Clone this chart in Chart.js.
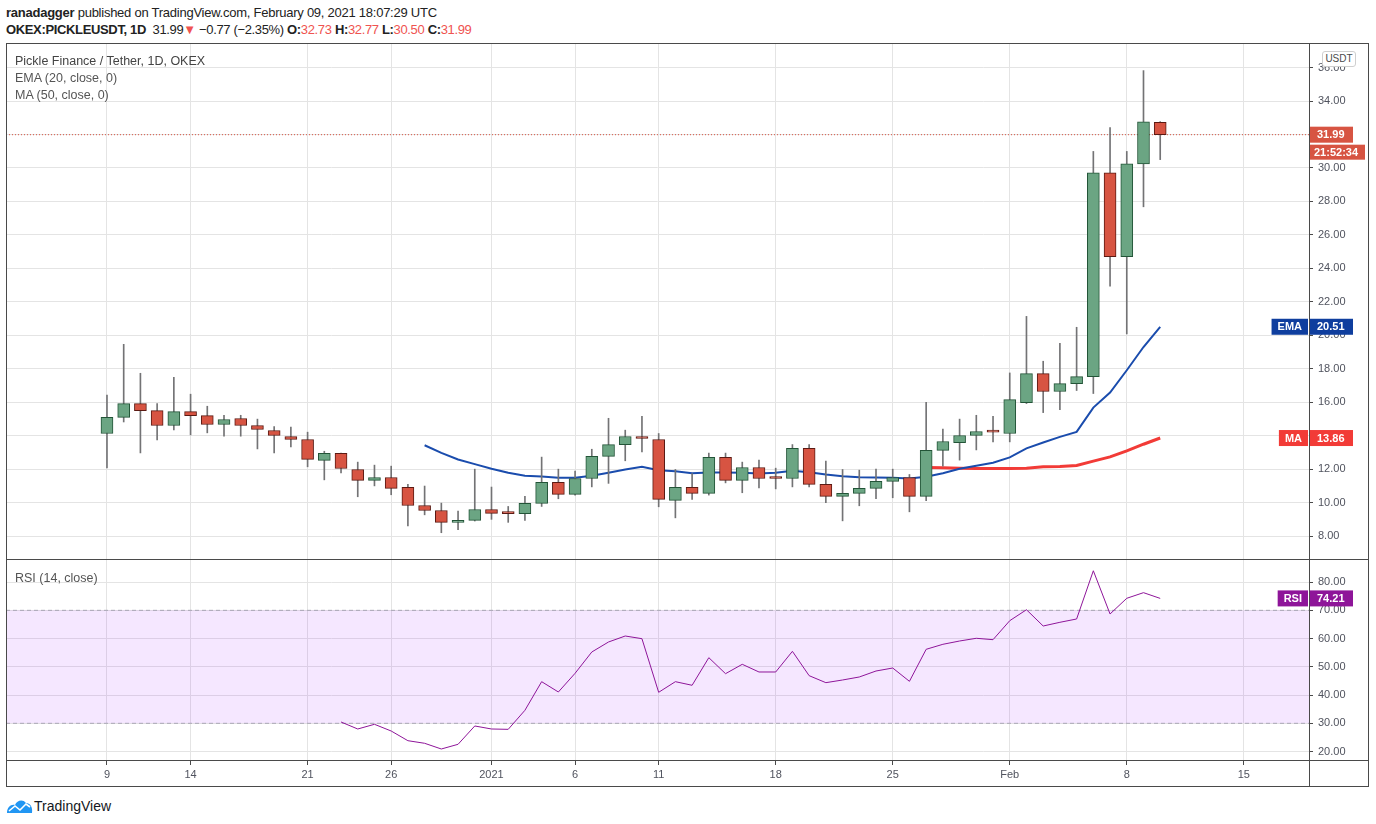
<!DOCTYPE html>
<html>
<head>
<meta charset="utf-8">
<title>PICKLEUSDT 1D</title>
<script src="https://cdn.jsdelivr.net/npm/chart.js@4.4.1/dist/chart.umd.min.js"></script>
<style>
  html, body { margin: 0; padding: 0; background: #fff; }
  body { width: 1376px; height: 824px; position: relative; overflow: hidden; font-family: 'Liberation Sans', Arial, sans-serif; color: #222; }
  .abs { position: absolute; }
  #hdr1 { left: 6px; top: 5px; font-size: 13px; letter-spacing: -0.25px; white-space: nowrap; }
  #hdr2 { left: 6px; top: 22px; font-size: 13px; letter-spacing: -0.35px; white-space: nowrap; }
  .dn { color: #ef5350; }
  .leyenda { left: 15px; font-size: 12.5px; color: #555; white-space: nowrap; }
  .frame { left: 6px; top: 43px; width: 1363px; height: 744px; border: 1px solid #4a4a4a; box-sizing: border-box; pointer-events: none; }
  .hline { height: 1px; background: #4a4a4a; left: 6px; width: 1363px; }
  .vline { width: 1px; background: #4a4a4a; left: 1309px; top: 43px; height: 744px; }
  #usdt { left: 1322px; top: 51px; width: 34px; height: 16px; border: 1px solid #cfcfcf; border-radius: 3px; background: #fff; box-sizing: border-box; font-size: 10px; color: #4a4a4a; text-align: center; line-height: 14px; }
  #logo { left: 6px; top: 796px; height: 20px; display: flex; align-items: center; font-size: 14px; color: #131722; }
</style>
</head>
<body>
<div id="hdr1" class="abs"><b>ranadagger</b> published on TradingView.com, February 09, 2021 18:07:29 UTC</div>
<div id="hdr2" class="abs"></div>

<div class="abs" style="left:6px;top:43px;width:1363px;height:516px;"><canvas id="canvasPrecio"></canvas></div>
<div class="abs" style="left:6px;top:559px;width:1363px;height:228px;"><canvas id="canvasRsi"></canvas></div>

<div class="abs leyenda" style="top:54px;color:#444;">Pickle Finance / Tether, 1D, OKEX</div>
<div class="abs leyenda" style="top:71px;">EMA (20, close, 0)</div>
<div class="abs leyenda" style="top:88px;">MA (50, close, 0)</div>
<div class="abs leyenda" style="top:571px;">RSI (14, close)</div>

<div class="abs frame"></div>
<div class="abs hline" style="top:559px;"></div>
<div class="abs hline" style="top:760px;"></div>
<div class="abs vline"></div>
<div id="usdt" class="abs">USDT</div>

<div id="logo" class="abs">
  <svg width="27" height="16" viewBox="0 0 27 16">
    <path d="M1 15 C1 9 5 6 9 7 C11 2 17 1 20 5 C24 5 27 9 26 15 Z" fill="#2196f3"/>
    <polyline points="3,13 9,8 14,12 20,6 24,9" fill="none" stroke="#fff" stroke-width="1.6"/>
  </svg>
  <span style="margin-left:1px;">TradingView</span>
</div>

<script>
// Dias: indice 0 = 9 dic 2020, ultimo = 10 feb 2021
const tickIndex = [0, 5, 12, 17, 23, 28, 33, 40, 47, 54, 61, 68];
const tickText  = ['9', '14', '21', '26', '2021', '6', '11', '18', '25', 'Feb', '8', '15'];

const opens  = [14.13, 15.09, 15.92, 15.50, 14.61, 15.44, 15.20, 14.67, 15.03, 14.61, 14.31, 13.95, 13.77, 12.52, 12.94, 11.98,
                11.33, 11.50, 10.91, 9.83, 9.53, 8.82, 8.94, 9.59, 9.38, 9.34, 9.95, 11.21, 10.49, 11.44, 12.76, 13.47,
                13.95, 13.77, 10.13, 10.91, 10.55, 12.70, 11.33, 12.10, 11.50, 11.44, 13.24, 11.09, 10.37, 10.55, 10.85, 11.27,
                11.50, 10.37, 13.12, 13.59, 14.01, 14.25, 14.13, 15.98, 17.71, 16.64, 17.11, 17.53, 29.71, 24.70, 30.25, 32.73];
const highs  = [16.42, 19.46, 17.73, 15.92, 17.49, 16.48, 15.76, 15.22, 15.22, 14.99, 14.55, 14.51, 14.21, 13.07, 12.96, 12.42,
                12.24, 12.18, 11.09, 10.99, 9.97, 9.49, 12.00, 10.93, 9.77, 10.37, 12.72, 12.00, 11.88, 13.19, 15.04, 14.33,
                15.16, 14.13, 11.98, 11.74, 12.96, 12.96, 12.42, 12.54, 12.06, 13.47, 13.47, 12.48, 11.98, 11.94, 12.00, 12.00,
                11.68, 16.00, 14.39, 14.99, 15.22, 15.16, 17.75, 21.13, 18.45, 19.52, 20.48, 30.99, 32.42, 30.99, 35.82, 32.77];
const lows   = [12.08, 14.82, 12.97, 13.75, 14.35, 14.05, 14.17, 13.97, 13.97, 13.21, 12.97, 13.33, 12.14, 11.36, 11.78, 10.35,
                11.00, 10.47, 8.61, 9.27, 8.20, 8.38, 8.90, 9.00, 8.82, 8.94, 9.77, 10.23, 10.45, 10.94, 11.15, 12.50,
                13.03, 9.75, 9.09, 10.19, 10.45, 11.18, 10.59, 10.88, 10.82, 10.94, 10.94, 9.99, 8.91, 9.81, 10.23, 10.29,
                9.45, 10.11, 12.18, 12.54, 13.15, 13.63, 13.63, 15.92, 15.38, 15.56, 16.70, 16.52, 22.94, 20.08, 27.68, 30.50];
const closes = [15.09, 15.92, 15.50, 14.61, 15.44, 15.20, 14.67, 14.97, 14.61, 14.37, 14.01, 13.77, 12.58, 12.94, 12.04, 11.33,
                11.50, 10.85, 9.83, 9.53, 8.82, 8.94, 9.59, 9.36, 9.34, 9.95, 11.21, 10.49, 11.44, 12.76, 13.47, 13.95,
                13.83, 10.19, 10.91, 10.55, 12.70, 11.33, 12.10, 11.44, 11.44, 13.24, 11.09, 10.37, 10.55, 10.85, 11.27, 11.50,
                10.37, 13.12, 13.65, 14.01, 14.25, 14.21, 16.16, 17.71, 16.64, 17.11, 17.53, 29.71, 24.70, 30.25, 32.76, 31.99];

const emaStart = 19;
const emaValues = [13.43, 12.97, 12.58, 12.30, 12.02, 11.78, 11.60, 11.56, 11.48, 11.48, 11.60, 11.78, 11.98, 12.14, 11.94,
                   11.88, 11.76, 11.80, 11.80, 11.78, 11.74, 11.78, 11.90, 11.82, 11.68, 11.58, 11.52, 11.50, 11.48, 11.44,
                   11.54, 11.76, 12.02, 12.20, 12.38, 12.70, 13.24, 13.59, 13.93, 14.23, 15.68, 16.58, 17.91, 19.30, 20.51];

const maStart = 49;
const maValues = [12.10, 12.08, 12.06, 12.04, 12.04, 12.04, 12.06, 12.14, 12.16, 12.22, 12.48, 12.73, 13.09, 13.49, 13.86];

const rsiStart = 14;
const rsiValues = [30.46, 27.98, 29.64, 27.27, 23.84, 22.92, 20.90, 22.56, 29.05, 27.98, 27.86, 34.60, 44.73, 41.08, 47.70,
                   55.24, 58.78, 60.90, 59.95, 40.97, 44.73, 43.45, 53.23, 47.56, 50.88, 48.16, 48.16, 55.48, 46.86, 44.38,
                   45.33, 46.39, 48.51, 49.57, 44.86, 56.19, 57.96, 59.13, 60.09, 59.60, 66.32, 70.20, 64.44, 65.75, 66.92,
                   84.00, 68.70, 74.25, 76.24, 74.21];

const priceTicks = [8, 10, 12, 14, 16, 18, 20, 22, 24, 26, 28, 30, 32, 34, 36];
const rsiTicks = [20, 30, 40, 50, 60, 70, 80];
const rsiBand = [70, 30];
const countdown = '21:52:34';

const X_MIN = -6.04, X_MAX = 71.9;
const UP = '#6ba583', UP_BORDER = '#225437', DOWN = '#d75442', DOWN_BORDER = '#5b1a13', WICK = '#737375';
const EMA_COLOR = '#1a4cad', MA_COLOR = '#f23b37', RSI_COLOR = '#8e1599';
const GRID = '#e4e4e4', AXIS_TEXT = '#50535e';

Chart.defaults.font.family = "'Liberation Sans', Arial, sans-serif";
Chart.defaults.font.size = 11;
Chart.defaults.color = AXIS_TEXT;

function fijarEje(ancho) {
    return function(s) {
        s.width = ancho;
        s.paddingTop = 0;
        s.paddingBottom = 0;
    };
}

function cabecera() {
    const n = closes.length - 1;
    const cambio = closes[n] - closes[n - 1];
    const pct = cambio / closes[n - 1] * 100;
    const f = v => v.toFixed(2);
    const signo = v => (v < 0 ? '\u2212' : '+') + Math.abs(v).toFixed(2);
    document.getElementById('hdr2').innerHTML =
        '<b>OKEX:PICKLEUSDT, 1D</b>&nbsp; ' + f(closes[n]) + '<span class="dn">\u25BC</span> ' +
        signo(cambio) + ' (' + signo(pct) + '%) ' +
        '<b>O:</b><span class="dn">' + f(opens[n]) + '</span> ' +
        '<b>H:</b><span class="dn">' + f(highs[n]) + '</span> ' +
        '<b>L:</b><span class="dn">' + f(lows[n]) + '</span> ' +
        '<b>C:</b><span class="dn">' + f(closes[n]) + '</span>';
}

function etiqueta(ctx, x, yPix, texto, color, nombre) {
    ctx.font = "bold 11px 'Liberation Sans', Arial, sans-serif";
    ctx.textBaseline = 'middle';
    ctx.fillStyle = color;
    ctx.fillRect(x, yPix - 8, 44, 16);
    ctx.fillStyle = '#fff';
    ctx.textAlign = 'left';
    ctx.fillText(texto, x + 8, yPix + 0.5);
    if (nombre) {
        const w = ctx.measureText(nombre).width + 12;
        ctx.fillStyle = color;
        ctx.fillRect(x - 1 - w, yPix - 8, w, 16);
        ctx.fillStyle = '#fff';
        ctx.fillText(nombre, x - 1 - w + 6, yPix + 0.5);
    }
}

const etiquetasPrecio = {
    id: 'etiquetasPrecio',
    afterDraw(chart) {
        const ctx = chart.ctx;
        const y = chart.scales.y;
        const x = chart.chartArea.right;
        const n = closes.length - 1;
        ctx.save();
        const yc = y.getPixelForValue(closes[n]);
        etiqueta(ctx, x, yc, closes[n].toFixed(2), DOWN, null);
        ctx.fillStyle = DOWN;
        ctx.fillRect(x, yc + 10, 56, 15);
        ctx.fillStyle = '#fff';
        ctx.fillText(countdown, x + 5, yc + 18);
        etiqueta(ctx, x, y.getPixelForValue(emaValues[emaValues.length - 1]), emaValues[emaValues.length - 1].toFixed(2), '#0f3e9e', 'EMA');
        etiqueta(ctx, x, y.getPixelForValue(maValues[maValues.length - 1]), maValues[maValues.length - 1].toFixed(2), MA_COLOR, 'MA');
        ctx.restore();
    }
};

const etiquetaRsi = {
    id: 'etiquetaRsi',
    afterDraw(chart) {
        const ctx = chart.ctx;
        const v = rsiValues[rsiValues.length - 1];
        ctx.save();
        etiqueta(ctx, chart.chartArea.right, chart.scales.y.getPixelForValue(v), v.toFixed(2), RSI_COLOR, 'RSI');
        ctx.restore();
    }
};

function ejeX(conTexto) {
    return {
        type: 'linear',
        min: X_MIN,
        max: X_MAX,
        offset: false,
        afterBuildTicks: s => { s.ticks = tickIndex.map(v => ({ value: v })); },
        afterFit: s => { s.height = conTexto ? 26 : 0; s.paddingLeft = 0; s.paddingRight = 0; },
        grid: { color: GRID, offset: false, drawTicks: conTexto, tickLength: 4, tickColor: '#4a4a4a' },
        border: { display: false },
        ticks: {
            display: conTexto,
            autoSkip: false,
            maxRotation: 0,
            padding: 3,
            callback: v => tickText[tickIndex.indexOf(v)]
        }
    };
}

function renderizarPrecio() {
    const cuerpos = opens.map((o, i) => ({ x: i, y: [o, closes[i]] }));
    const mechas = opens.map((o, i) => ({ x: i, y: [lows[i], highs[i]] }));
    const subida = opens.map((o, i) => closes[i] >= o);

    new Chart(document.getElementById('canvasPrecio'), {
        type: 'bar',
        data: {
            datasets: [
                {
                    label: 'Velas',
                    data: cuerpos,
                    backgroundColor: subida.map(u => u ? UP : DOWN),
                    borderColor: subida.map(u => u ? UP_BORDER : DOWN_BORDER),
                    borderWidth: 1,
                    borderSkipped: false,
                    barThickness: 12,
                    minBarLength: 2,
                    grouped: false,
                    order: 0
                },
                {
                    label: 'Mechas',
                    data: mechas,
                    backgroundColor: WICK,
                    borderWidth: 0,
                    barThickness: 1,
                    grouped: false,
                    order: 1
                },
                {
                    type: 'line',
                    label: 'EMA',
                    data: emaValues.map((v, k) => ({ x: emaStart + k, y: v })),
                    borderColor: EMA_COLOR,
                    borderWidth: 2,
                    pointRadius: 0,
                    tension: 0,
                    order: 2
                },
                {
                    type: 'line',
                    label: 'MA',
                    data: maValues.map((v, k) => ({ x: maStart + k, y: v })),
                    borderColor: MA_COLOR,
                    borderWidth: 3,
                    pointRadius: 0,
                    tension: 0,
                    order: 3
                },
                {
                    type: 'line',
                    label: 'Ultimo',
                    data: [{ x: X_MIN, y: closes[closes.length - 1] }, { x: X_MAX, y: closes[closes.length - 1] }],
                    borderColor: DOWN,
                    borderWidth: 1,
                    borderDash: [1, 2],
                    pointRadius: 0,
                    order: 4
                }
            ]
        },
        options: {
            responsive: true,
            maintainAspectRatio: false,
            animation: false,
            layout: { padding: 0 },
            plugins: { legend: { display: false }, tooltip: { enabled: false } },
            scales: {
                x: ejeX(false),
                y: {
                    position: 'right',
                    min: 6.63,
                    max: 37.47,
                    afterBuildTicks: s => { s.ticks = priceTicks.map(v => ({ value: v })); },
                    afterFit: fijarEje(60),
                    grid: { color: GRID, tickLength: 4, tickColor: '#4a4a4a' },
                    border: { display: false },
                    ticks: { padding: 5, callback: v => v.toFixed(2) }
                }
            }
        },
        plugins: [etiquetasPrecio]
    });
}

function renderizarRsi() {
    const banda = v => [{ x: X_MIN, y: v }, { x: X_MAX, y: v }];
    new Chart(document.getElementById('canvasRsi'), {
        type: 'line',
        data: {
            datasets: [
                {
                    label: 'RSI',
                    data: rsiValues.map((v, k) => ({ x: rsiStart + k, y: v })),
                    borderColor: RSI_COLOR,
                    borderWidth: 1,
                    pointRadius: 0,
                    tension: 0,
                    order: 0
                },
                {
                    label: 'Sobrecompra',
                    data: banda(rsiBand[0]),
                    borderColor: 'rgba(120,123,134,0.55)',
                    borderWidth: 1,
                    borderDash: [4, 3],
                    pointRadius: 0,
                    fill: '+1',
                    backgroundColor: 'rgba(153,21,255,0.1)',
                    order: 1
                },
                {
                    label: 'Sobreventa',
                    data: banda(rsiBand[1]),
                    borderColor: 'rgba(120,123,134,0.55)',
                    borderWidth: 1,
                    borderDash: [4, 3],
                    pointRadius: 0,
                    order: 2
                }
            ]
        },
        options: {
            responsive: true,
            maintainAspectRatio: false,
            animation: false,
            layout: { padding: 0 },
            plugins: { legend: { display: false }, tooltip: { enabled: false }, filler: { propagate: false } },
            scales: {
                x: ejeX(true),
                y: {
                    position: 'right',
                    min: 16.65,
                    max: 88.16,
                    afterBuildTicks: s => { s.ticks = rsiTicks.map(v => ({ value: v })); },
                    afterFit: fijarEje(60),
                    grid: { color: GRID, tickLength: 4, tickColor: '#4a4a4a' },
                    border: { display: false },
                    ticks: { padding: 5, callback: v => v.toFixed(2) }
                }
            }
        },
        plugins: [etiquetaRsi]
    });
}

document.addEventListener('DOMContentLoaded', () => {
    cabecera();
    renderizarPrecio();
    renderizarRsi();
});
</script>
</body>
</html>
